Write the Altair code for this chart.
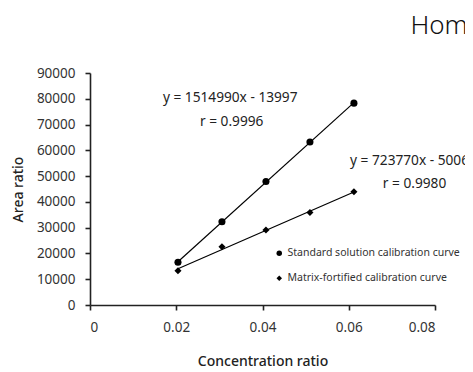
import altair as alt
import pandas as pd

conc = [0.0204, 0.0306, 0.0408, 0.0510, 0.0612]
standard = [16600, 32300, 47900, 63200, 78300]
matrix = [13300, 22600, 29100, 35900, 43900]
series_names = ["Standard solution calibration curve", "Matrix-fortified calibration curve"]

ann_text = ["y = 1514990x - 13997", "r = 0.9996", "y = 723770x - 5006", "r = 0.9980"]
ann_x = [0.0169, 0.0255, 0.0603, 0.0679]
ann_y = [80400, 70800, 55700, 47000]

x_ticks = [0, 0.02, 0.04, 0.06, 0.08]
y_ticks = [0, 10000, 20000, 30000, 40000, 50000, 60000, 70000, 80000, 90000]

rows = []
for xv, s, m in zip(conc, standard, matrix):
    rows.append({"x": xv, "y": s, "series": series_names[0]})
    rows.append({"x": xv, "y": m, "series": series_names[1]})
df = pd.DataFrame(rows)
ann = pd.DataFrame({"t": ann_text, "x": ann_x, "y": ann_y})

FONT = "Noto Sans"

X = alt.X("x:Q", scale=alt.Scale(domain=[0, 0.08], nice=False, zero=False, padding=0),
          axis=alt.Axis(title="Concentration ratio", values=x_ticks, format="~g",
                        grid=False, titlePadding=21, labelPadding=10, labelOverlap=False))
Y = alt.Y("y:Q", scale=alt.Scale(domain=[0, 90000], nice=False, zero=False, padding=0),
          axis=alt.Axis(title="Area ratio", values=y_ticks, format="d",
                        grid=False, titlePadding=11, labelPadding=10, labelOverlap=False))

base = alt.Chart(df).encode(x=X, y=Y)

lines = base.transform_regression("x", "y", groupby=["series"]).mark_line(
    color="black", strokeWidth=1.2
).encode(detail="series:N")

points = base.mark_point(filled=True, color="black", opacity=1, size=50).encode(
    shape=alt.Shape("series:N", scale=alt.Scale(domain=series_names, range=["circle", "diamond"]),
                    legend=alt.Legend(title=None, orient="none", legendX=184, legendY=175,
                                      labelFontSize=10.5, labelFont=FONT, labelColor="#333",
                                      labelLimit=400,
                                      symbolSize=30, symbolFillColor="black", symbolStrokeColor="black",
                                      rowPadding=13, labelOffset=3)),
)

texts = alt.Chart(ann).mark_text(align="left", baseline="middle", fontSize=13.7, font=FONT,
                                 color="#222").encode(x=X, y=Y, text="t:N")

chart = alt.layer(lines, points, texts).properties(
    width=345, height=232,
    title=alt.TitleParams("Hom", anchor="start", dx=399, fontSize=26, font=FONT,
                          fontWeight=300, color="#111", offset=27),
    autosize=alt.AutoSizeParams(type="none"),
    padding={"left": 82, "top": 65, "right": 30, "bottom": 65},
).configure_view(stroke=None).configure_axis(
    domainColor="#222", domainWidth=1.6, tickColor="#222", tickWidth=1.6, tickSize=5,
    labelFont=FONT, labelFontSize=13.5, labelColor="#333",
    titleFont=FONT, titleFontSize=14, titleFontWeight=500, titleColor="#222",
)

chart.save("out.html", embed_options={"renderer": "svg", "actions": False})
